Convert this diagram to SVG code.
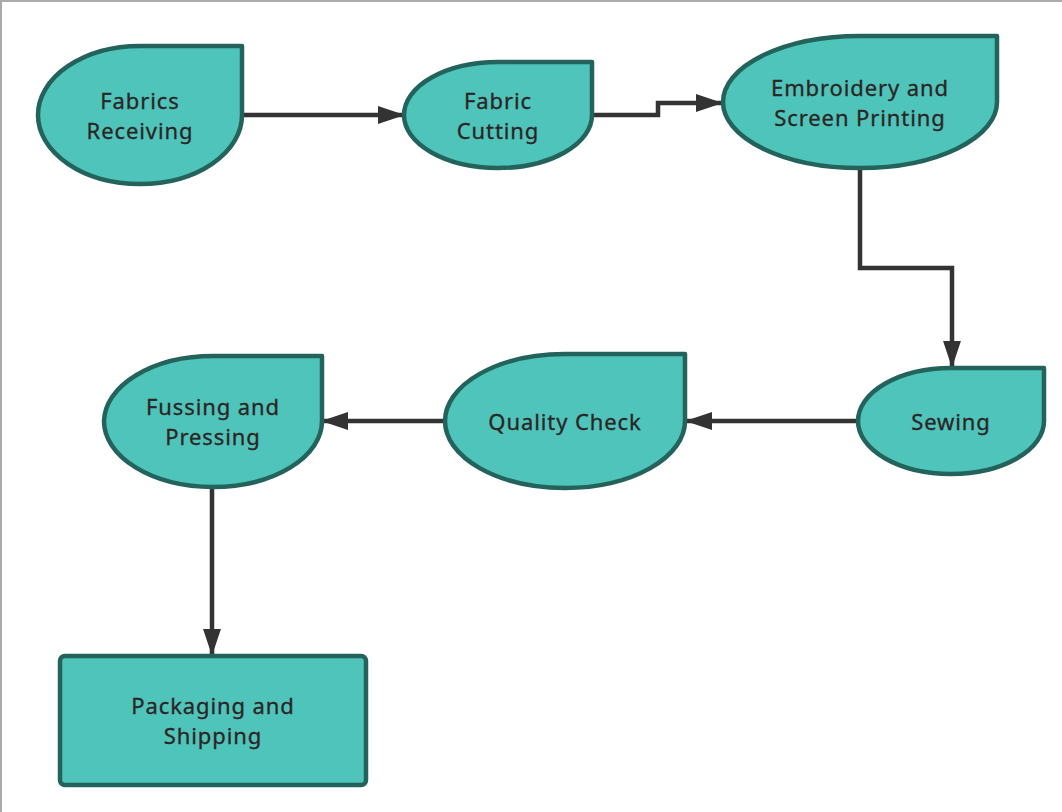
<svg xmlns="http://www.w3.org/2000/svg" width="1062" height="812" viewBox="0 0 1062 812">
<style>
.node{fill:#4ec4bb;stroke:#23635c;stroke-width:4.5;stroke-linejoin:round}
.lbl{font-family:"Noto Sans","Liberation Sans",sans-serif;font-size:22px;letter-spacing:0.9px;fill:#2d2424;stroke:#2d2424;stroke-width:0.3px;text-anchor:middle;dominant-baseline:central}
.edge{fill:none;stroke:#333333;stroke-width:4.5}
</style>
<defs>
<marker id="ah" markerWidth="6" markerHeight="4" refX="5.6" refY="2" orient="auto" markerUnits="strokeWidth">
<path d="M0,0 L6,2 L0,4 Z" fill="#333333"/>
</marker>
</defs>
<rect x="0" y="0" width="1062" height="812" fill="#ffffff"/>
<path d="M1,812 V1 H1062" fill="none" stroke="#aaaaaa" stroke-width="2"/>
<g id="connectors">
<path class="edge" d="M244,115 H403" marker-end="url(#ah)"/>
<path class="edge" d="M594,115 H658 V103 H721" marker-end="url(#ah)"/>
<path class="edge" d="M860,170 V268 H952 V366" marker-end="url(#ah)"/>
<path class="edge" d="M856,421 H687" marker-end="url(#ah)"/>
<path class="edge" d="M443,421 H323" marker-end="url(#ah)"/>
<path class="edge" d="M212,489 V654" marker-end="url(#ah)"/>
</g>
<g id="n1">
<path class="node" d="M140,46 H242 V115 A102,69 0 0 1 140,184 A102,69 0 0 1 38,115 A102,69 0 0 1 140,46 Z"/>
<text class="lbl" x="140" y="100">Fabrics</text>
<text class="lbl" x="140" y="130">Receiving</text>
</g>
<g id="n2">
<path class="node" d="M498,62 H592 V115 A94,53 0 0 1 498,168 A94,53 0 0 1 404,115 A94,53 0 0 1 498,62 Z"/>
<text class="lbl" x="498" y="100">Fabric</text>
<text class="lbl" x="498" y="130">Cutting</text>
</g>
<g id="n3">
<path class="node" d="M860,36 H997 V102 A137,66 0 0 1 860,168 A137,66 0 0 1 723,102 A137,66 0 0 1 860,36 Z"/>
<text class="lbl" x="860" y="87">Embroidery and</text>
<text class="lbl" x="860" y="117">Screen Printing</text>
</g>
<g id="n4">
<path class="node" d="M951,368 H1044 V421 A93,53 0 0 1 951,474 A93,53 0 0 1 858,421 A93,53 0 0 1 951,368 Z"/>
<text class="lbl" x="951" y="421">Sewing</text>
</g>
<g id="n5">
<path class="node" d="M565,354 H685 V421 A120,67 0 0 1 565,488 A120,67 0 0 1 445,421 A120,67 0 0 1 565,354 Z"/>
<text class="lbl" x="565" y="421">Quality Check</text>
</g>
<g id="n6">
<path class="node" d="M213,356 H322 V421 A109,66 0 0 1 213,487 A109,66 0 0 1 104,421 A109,66 0 0 1 213,356 Z"/>
<text class="lbl" x="213" y="406">Fussing and</text>
<text class="lbl" x="213" y="436">Pressing</text>
</g>
<g id="n7">
<rect class="node" x="60" y="656" width="306" height="129" rx="5" ry="5"/>
<text class="lbl" x="213" y="705">Packaging and</text>
<text class="lbl" x="213" y="735">Shipping</text>
</g>
</svg>
